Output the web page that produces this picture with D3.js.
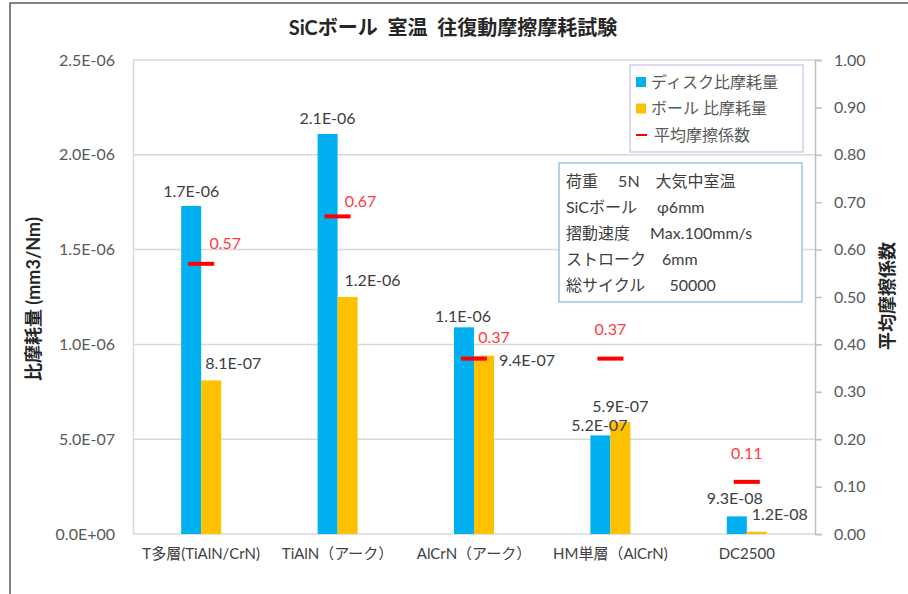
<!DOCTYPE html>
<html>
<head>
  <meta charset="utf-8" />
  <title>SiCボール 室温 往復動摩擦摩耗試験</title>
  <script type="text/javascript" src="https://cdn.jsdelivr.net/npm/d3@7"></script>
  <style>
    body{ margin:0; background:white; }
    text{ font-family: Lato, "Noto Sans CJK JP", sans-serif; }
  </style>
</head>
<body>
  <script type="text/javascript">
    // - - - - - DATA - - - - - //
    var categories = ["T多層(TiAlN/CrN)", "TiAlN（アーク）", "AlCrN（アーク）", "HM単層（AlCrN)", "DC2500"];
    var diskWear   = [1.73e-6, 2.11e-6, 1.09e-6, 5.2e-7, 9.3e-8];
    var ballWear   = [8.1e-7, 1.25e-6, 9.4e-7, 5.9e-7, 1.2e-8];
    var friction   = [0.57, 0.67, 0.37, 0.37, 0.11];
    var diskText   = ["1.7E-06", "2.1E-06", "1.1E-06", "5.2E-07", "9.3E-08"];
    var ballText   = ["8.1E-07", "1.2E-06", "9.4E-07", "5.9E-07", "1.2E-08"];
    var leftTicks  = [0, 5e-7, 1e-6, 1.5e-6, 2e-6, 2.5e-6];
    var leftTickText = ["0.0E+00", "5.0E-07", "1.0E-06", "1.5E-06", "2.0E-06", "2.5E-06"];
    var rightTicks = [0, 0.1, 0.2, 0.3, 0.4, 0.5, 0.6, 0.7, 0.8, 0.9, 1.0];
    var legendItems = ["ディスク比摩耗量", "ボール 比摩耗量", "平均摩擦係数"];
    var infoLines = ["荷重　 5N　大気中室温", "SiCボール　 φ6mm", "摺動速度　 Max.100mm/s", "ストローク　6mm", "総サイクル　  50000"];

    // - - - - - CANVAS - - - - - //
    var w = 908, h = 594;
    var plot = {left: 133, right: 815, top: 60, bottom: 534};
    var blue = "#00b0f0", orange = "#ffc000", red = "#ff0000";
    var gridColor = "#d9d9d9", textColor = "#404040";

    var svg = d3.select("body").append("svg")
      .attr("width", w).attr("height", h);

    //outer frame (only left and top are in view)
    svg.append("rect")
      .attr("x", 10).attr("y", 3)
      .attr("width", 1000).attr("height", 1000)
      .attr("fill", "none").attr("stroke", "#595959").attr("stroke-width", 1.5);

    // - - - - - SCALES - - - - - //
    var x = d3.scaleBand().domain(categories).range([plot.left, plot.right]);
    var xSub = d3.scaleBand().domain(["disk", "ball"]).range([-20, 20]);
    var yL = d3.scaleLinear().domain([0, 2.5e-6]).range([plot.bottom, plot.top]);
    var yR = d3.scaleLinear().domain([0, 1]).range([plot.bottom, plot.top]);
    var cx = function(i){ return x(categories[i]) + x.bandwidth()/2; };

    // - - - - - GRID - - - - - //
    svg.append("g").selectAll("line")
      .data(leftTicks)
      .enter().append("line")
      .attr("x1", plot.left).attr("x2", plot.right)
      .attr("y1", function(d){ return yL(d); })
      .attr("y2", function(d){ return yL(d); })
      .attr("stroke", gridColor).attr("stroke-width", 1.5);

    // left axis
    var axL = svg.append("g")
      .attr("transform", "translate(" + plot.left + ",0)")
      .call(d3.axisLeft(yL).tickValues(leftTicks).tickSize(0).tickPadding(18)
        .tickFormat(function(d, i){ return leftTickText[i]; }));
    axL.select(".domain").attr("stroke", gridColor).attr("stroke-width", 1.5);
    axL.selectAll("text").attr("font-size", 16).attr("fill", "#595959")
      .style("font-family", "Lato, sans-serif");

    // right axis
    var axR = svg.append("g")
      .attr("transform", "translate(" + plot.right + ",0)")
      .call(d3.axisRight(yR).tickValues(rightTicks).tickSize(7).tickPadding(12)
        .tickFormat(d3.format(".2f")));
    axR.select(".domain").attr("stroke", "#bfbfbf").attr("stroke-width", 1.5);
    axR.selectAll(".tick line").attr("stroke", "#bfbfbf").attr("stroke-width", 1.5);
    axR.selectAll("text").attr("font-size", 16).attr("fill", "#595959")
      .style("font-family", "Lato, sans-serif");

    // category labels
    svg.append("g").selectAll("text")
      .data(categories)
      .enter().append("text")
      .attr("x", function(d, i){ return cx(i); })
      .attr("y", 559)
      .attr("text-anchor", "middle")
      .attr("font-size", 15)
      .attr("fill", textColor)
      .text(function(d){ return d; });

    // - - - - - BARS - - - - - //
    var bars = svg.append("g");
    bars.selectAll(".disk")
      .data(diskWear).enter().append("rect")
      .attr("class", "disk")
      .attr("x", function(d, i){ return cx(i) + xSub("disk"); })
      .attr("width", xSub.bandwidth())
      .attr("y", function(d){ return yL(d); })
      .attr("height", function(d){ return plot.bottom - yL(d); })
      .attr("fill", blue);
    bars.selectAll(".ball")
      .data(ballWear).enter().append("rect")
      .attr("class", "ball")
      .attr("x", function(d, i){ return cx(i) + xSub("ball"); })
      .attr("width", xSub.bandwidth())
      .attr("y", function(d){ return yL(d); })
      .attr("height", function(d){ return plot.bottom - yL(d); })
      .attr("fill", orange);

    // friction dashes
    svg.append("g").selectAll("line")
      .data(friction).enter().append("line")
      .attr("x1", function(d, i){ return cx(i) - 13; })
      .attr("x2", function(d, i){ return cx(i) + 13; })
      .attr("y1", function(d){ return yR(d); })
      .attr("y2", function(d){ return yR(d); })
      .attr("stroke", red).attr("stroke-width", 4);

    // - - - - - DATA LABELS - - - - - //
    //hand placed nudges, as in the original sheet
    var diskNudge = [[0, 0], [0, -1], [-1, 4], [-1, 5], [-2, -3]];
    var ballNudge = [[22, -2], [25, -2], [43, 20], [0, -1], [23, -2]];
    var fricNudge = [[24, -20], [23, -15], [20, -21], [0, -29], [0, -28]];

    var labels = svg.append("g").attr("font-size", 16);
    labels.selectAll(".dl").data(diskWear).enter().append("text")
      .attr("x", function(d, i){ return cx(i) + xSub("disk") + xSub.bandwidth()/2 + diskNudge[i][0]; })
      .attr("y", function(d, i){ return yL(d) - 15 + diskNudge[i][1]; })
      .attr("dy", "0.35em").attr("text-anchor", "middle").attr("fill", textColor)
      .text(function(d, i){ return diskText[i]; });
    labels.selectAll(".bl").data(ballWear).enter().append("text")
      .attr("x", function(d, i){ return cx(i) + xSub("ball") + xSub.bandwidth()/2 + ballNudge[i][0]; })
      .attr("y", function(d, i){ return yL(d) - 15 + ballNudge[i][1]; })
      .attr("dy", "0.35em").attr("text-anchor", "middle").attr("fill", textColor)
      .text(function(d, i){ return ballText[i]; });
    labels.selectAll(".fl").data(friction).enter().append("text")
      .attr("x", function(d, i){ return cx(i) + fricNudge[i][0]; })
      .attr("y", function(d, i){ return yR(d) + fricNudge[i][1]; })
      .attr("dy", "0.35em").attr("text-anchor", "middle").attr("fill", "#ff3b3b")
      .text(function(d){ return d3.format(".2f")(d); });

    // - - - - - TITLES - - - - - //
    svg.append("text")
      .attr("x", 453).attr("y", 35)
      .attr("text-anchor", "middle").attr("font-size", 20).attr("font-weight", "bold")
      .attr("fill", "#262626")
      .style("white-space", "pre")
      .text("SiCボール  室温  往復動摩擦摩耗試験");
    svg.append("text")
      .attr("transform", "translate(40,299) rotate(-90)")
      .attr("text-anchor", "middle").attr("font-size", 18).attr("font-weight", "bold")
      .attr("fill", "#262626")
      .text("比摩耗量 (mm3/Nm)");
    svg.append("text")
      .attr("transform", "translate(894,296) rotate(-90)")
      .attr("text-anchor", "middle").attr("font-size", 18).attr("font-weight", "bold")
      .attr("fill", "#262626")
      .text("平均摩擦係数");

    // - - - - - LEGEND - - - - - //
    var legend = svg.append("g");
    legend.append("rect")
      .attr("x", 630).attr("y", 65).attr("width", 173).attr("height", 87)
      .attr("fill", "white").attr("stroke", "#d5cde8").attr("stroke-width", 1.5);
    var legendColors = [blue, orange, red];
    legendItems.forEach(function(t, i){
      var ly = 82 + i * 26.5;
      if (i < 2){
        legend.append("rect").attr("x", 636).attr("y", ly - 5)
          .attr("width", 10).attr("height", 10).attr("fill", legendColors[i]);
      } else {
        legend.append("line").attr("x1", 636).attr("x2", 647)
          .attr("y1", ly).attr("y2", ly)
          .attr("stroke", red).attr("stroke-width", 2);
      }
      legend.append("text").attr("x", i < 2 ? 651 : 654).attr("y", ly)
        .attr("dy", "0.35em").attr("font-size", 16).attr("fill", "#595959")
        .text(t);
    });

    // - - - - - TEST CONDITIONS BOX - - - - - //
    var info = svg.append("g");
    info.append("rect")
      .attr("x", 559).attr("y", 163).attr("width", 243).attr("height", 139)
      .attr("fill", "white").attr("stroke", "#9dc3e6").attr("stroke-width", 1.5);
    info.selectAll("text").data(infoLines).enter().append("text")
      .attr("x", 566)
      .attr("y", function(d, i){ return 181 + i * 26; })
      .attr("dy", "0.35em").attr("font-size", 16).attr("fill", textColor)
      .style("white-space", "pre")
      .text(function(d){ return d; });
  </script>
</body>
</html>
